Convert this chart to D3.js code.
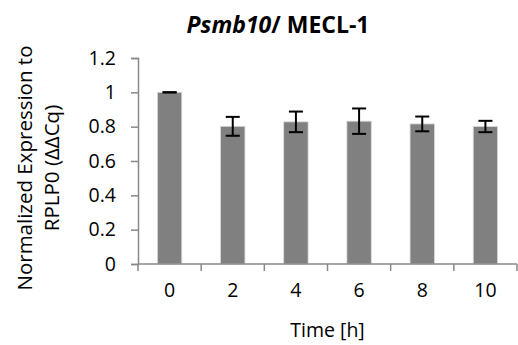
<!DOCTYPE html>
<html>
<head>
<meta charset="utf-8">
<script src="https://cdn.jsdelivr.net/npm/d3@7"></script>
<style>
    body { margin: 0; background: #fff; }
    svg { display: block; }
    text { font-family: "Open Sans", "Noto Sans", sans-serif; fill: #000; }
</style>
</head>
<body>
<svg id="chart" width="518" height="345"></svg>
<script>
// values
var times = ['0', '2', '4', '6', '8', '10'];
var expression = [1.0, 0.802, 0.828, 0.832, 0.816, 0.801];
var errors = [0.0, 0.055, 0.06, 0.074, 0.043, 0.033];
var yTicks = [0, 0.2, 0.4, 0.6, 0.8, 1, 1.2];

var svg = d3.select('#chart');

var margin = {left: 138, right: 1, top: 58, bottom: 81};
var width = 518 - margin.left - margin.right;
var height = 345 - margin.top - margin.bottom;

var g = svg.append('g')
    .attr('transform', 'translate(' + margin.left + ',' + margin.top + ')');

var x = d3.scaleBand()
    .domain(times)
    .range([0, width])
    .paddingInner(0.614)
    .paddingOuter(0.307);

var y = d3.scaleLinear()
    .domain([0, 1.2])
    .range([height, 0]);

var axisColor = '#898989';
var labelSize = '19.5px';

// y axis
var yAxis = g.append('g')
    .call(d3.axisLeft(y).tickValues(yTicks).tickSize(7).tickPadding(15)
        .tickFormat(function (d) { return d3.format('')(d); }));
yAxis.select('.domain').attr('stroke', axisColor).attr('stroke-width', 1.5);
yAxis.selectAll('.tick line').attr('stroke', axisColor).attr('stroke-width', 1.5);
yAxis.selectAll('.tick text').style('font-size', labelSize).attr('fill', '#000');

// bars
g.selectAll('rect.bar')
    .data(expression)
    .enter()
    .append('rect')
    .attr('class', 'bar')
    .attr('x', function (d, i) { return x(times[i]); })
    .attr('y', function (d) { return y(d); })
    .attr('width', x.bandwidth())
    .attr('height', function (d) { return height - y(d); })
    .attr('fill', '#808080')
    .attr('stroke', '#d9d9d9')
    .attr('stroke-width', 0.8);

// error bars
var capHalf = 7;
var err = g.selectAll('g.err')
    .data(expression)
    .enter()
    .append('g')
    .attr('class', 'err')
    .attr('stroke', '#000')
    .attr('stroke-width', 2);
err.append('line')
    .attr('x1', function (d, i) { return x(times[i]) + x.bandwidth() / 2; })
    .attr('x2', function (d, i) { return x(times[i]) + x.bandwidth() / 2; })
    .attr('y1', function (d, i) { return y(d + errors[i]); })
    .attr('y2', function (d, i) { return y(d - errors[i]); });
err.append('line')
    .attr('x1', function (d, i) { return x(times[i]) + x.bandwidth() / 2 - capHalf; })
    .attr('x2', function (d, i) { return x(times[i]) + x.bandwidth() / 2 + capHalf; })
    .attr('y1', function (d, i) { return y(d + errors[i]); })
    .attr('y2', function (d, i) { return y(d + errors[i]); });
err.append('line')
    .attr('x1', function (d, i) { return x(times[i]) + x.bandwidth() / 2 - capHalf; })
    .attr('x2', function (d, i) { return x(times[i]) + x.bandwidth() / 2 + capHalf; })
    .attr('y1', function (d, i) { return y(d - errors[i]); })
    .attr('y2', function (d, i) { return y(d - errors[i]); });

// x axis: ticks sit between the categories, like Excel
var xAxis = g.append('g')
    .attr('transform', 'translate(0,' + height + ')');
xAxis.append('line')
    .attr('x1', 0).attr('x2', width)
    .attr('stroke', axisColor).attr('stroke-width', 1.5);
var step = x.step();
xAxis.selectAll('line.tick')
    .data(d3.range(times.length + 1))
    .enter()
    .append('line')
    .attr('class', 'tick')
    .attr('x1', function (d) { return x(times[0]) - x.paddingOuter() * step + d * step; })
    .attr('x2', function (d) { return x(times[0]) - x.paddingOuter() * step + d * step; })
    .attr('y1', 0).attr('y2', 7)
    .attr('stroke', axisColor).attr('stroke-width', 1.5);
xAxis.selectAll('text.lbl')
    .data(times)
    .enter()
    .append('text')
    .attr('class', 'lbl')
    .attr('x', function (d) { return x(d) + x.bandwidth() / 2; })
    .attr('y', 33)
    .attr('text-anchor', 'middle')
    .style('font-size', labelSize)
    .text(function (d) { return d; });

// axis titles
svg.append('text')
    .attr('x', margin.left + width / 2)
    .attr('y', 337)
    .attr('text-anchor', 'middle')
    .style('font-size', labelSize)
    .text('Time [h]');

var yTitle = svg.append('text')
    .attr('transform', 'translate(32,168) rotate(-90)')
    .attr('text-anchor', 'middle')
    .style('font-size', '20.5px');
yTitle.append('tspan').attr('x', 0).attr('dy', 0).text('Normalized Expression to');
yTitle.append('tspan').attr('x', 0).attr('dy', 27).text('RPLP0 (ΔΔCq)');

// title
var title = svg.append('text')
    .attr('x', 278)
    .attr('y', 33)
    .attr('text-anchor', 'middle')
    .style('font-size', '23px')
    .style('font-weight', 'bold');
title.append('tspan').style('font-style', 'italic').text('Psmb10');
title.append('tspan').text('/ MECL-1');
</script>
</body>
</html>
